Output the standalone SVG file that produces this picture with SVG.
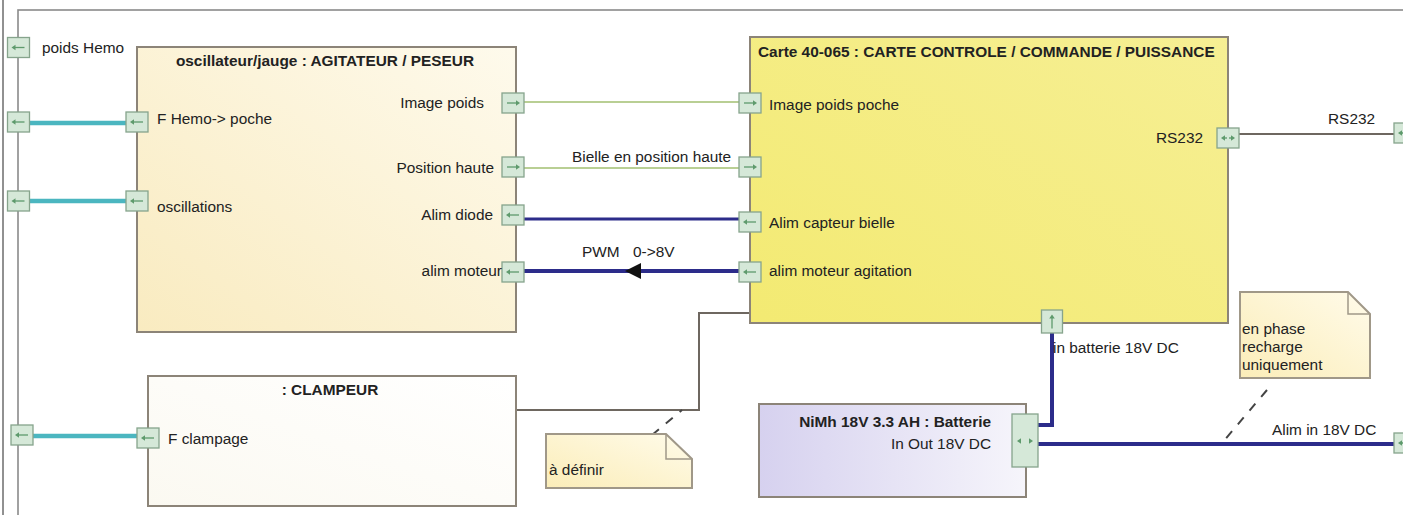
<svg xmlns="http://www.w3.org/2000/svg" xmlns:xlink="http://www.w3.org/1999/xlink" width="1403" height="515" viewBox="0 0 1403 515">
<style>
text{font-family:"Liberation Sans",Arial,sans-serif;font-size:15.4px;fill:#222}
.b{font-weight:bold}
.e{text-anchor:end}
.m{text-anchor:middle}
.blk{stroke:#8c8478;stroke-width:2}
.port{fill:#d5e8d8;stroke:#86a48c;stroke-width:1.3}
.pa{stroke:#5e9a6c;stroke-width:1.3;fill:none}
.pah{fill:#5e9a6c}
.cyan{stroke:#4bb6c0;stroke-width:4.5;fill:none}
.green{stroke:#b9cf94;stroke-width:2;fill:none}
.navy{stroke:#2c2c8a;stroke-width:3;fill:none}
.navy4{stroke:#2c2c8a;stroke-width:4;fill:none}
.gray{stroke:#6e6760;stroke-width:2;fill:none}
.dash{stroke:#444;stroke-width:2;stroke-dasharray:9,9;fill:none}
.note{fill:url(#gNote);stroke:#a09888;stroke-width:2}
</style>
<defs>
<linearGradient id="gAg" x1="0" y1="1" x2="1" y2="0"><stop offset="0" stop-color="#f9ebc0"/><stop offset="1" stop-color="#fefaec"/></linearGradient>
<linearGradient id="gCa" x1="0" y1="1" x2="1" y2="0"><stop offset="0" stop-color="#f3ea72"/><stop offset="1" stop-color="#f6ef94"/></linearGradient>
<linearGradient id="gCl" x1="0" y1="1" x2="1" y2="0"><stop offset="0" stop-color="#fbf9f1"/><stop offset="1" stop-color="#ffffff"/></linearGradient>
<linearGradient id="gBa" x1="0" y1="0" x2="1" y2="0"><stop offset="0" stop-color="#d6d1ef"/><stop offset="1" stop-color="#f6f5fb"/></linearGradient>
<linearGradient id="gNote" x1="0" y1="1" x2="1" y2="0"><stop offset="0" stop-color="#fbedb8"/><stop offset="1" stop-color="#fffbea"/></linearGradient>
<g id="pL"><rect class="port" x="-11" y="-10" width="22" height="20"/><line class="pa" x1="-4" y1="0" x2="6" y2="0"/><polygon class="pah" points="-7,0 -3,-2.8 -3,2.8"/></g>
<g id="pR"><rect class="port" x="-11" y="-10" width="22" height="20"/><line class="pa" x1="-6" y1="0" x2="4" y2="0"/><polygon class="pah" points="7,0 3,-2.8 3,2.8"/></g>
<g id="pB"><rect class="port" x="-11" y="-10" width="22" height="20"/><polygon class="pah" points="-7,0 -3,-2.8 -3,2.8"/><polygon class="pah" points="7,0 3,-2.8 3,2.8"/><line class="pa" x1="-4" y1="0" x2="-1" y2="0"/><line class="pa" x1="1" y1="0" x2="4" y2="0"/></g>
<g id="pU"><rect class="port" x="-10.5" y="-11.5" width="21" height="23"/><line class="pa" x1="0" y1="-4" x2="0" y2="7"/><polygon class="pah" points="0,-7 -2.8,-3 2.8,-3"/></g>
</defs>
<rect x="0" y="0" width="1403" height="515" fill="#ffffff"/>
<g id="frame">
<line x1="3" y1="0" x2="3" y2="515" stroke="#222" stroke-width="1"/>
<rect x="18" y="10" width="1388" height="520" fill="none" stroke="#8a8a8a" stroke-width="1.6"/>
</g>
<g id="connectors">
<line class="cyan" x1="29" y1="123" x2="126" y2="123"/>
<line class="cyan" x1="29" y1="201" x2="126" y2="201"/>
<line class="cyan" x1="32" y1="436" x2="137" y2="436"/>
<line class="green" x1="524" y1="102" x2="739" y2="102"/>
<line class="green" x1="524" y1="168" x2="739" y2="168"/>
<line class="navy" x1="524" y1="219" x2="739" y2="219"/>
<line class="navy4" x1="524" y1="271" x2="739" y2="271"/>
<polygon points="625,271 641,263 641,279" fill="#111"/>
<line class="gray" x1="1239" y1="134" x2="1394" y2="134"/>
<polyline class="gray" points="516,410 699,410 699,313 750,313"/>
<polyline class="navy4" points="1052,333 1052,425 1038,425"/>
<line class="navy4" x1="1038" y1="444" x2="1394" y2="444"/>
<line class="dash" x1="652" y1="435" x2="682" y2="410"/>
<line class="dash" x1="1267" y1="390" x2="1222" y2="443"/>
<text x="572" y="162">Bielle en position haute</text>
<text x="582" y="257">PWM</text>
<text x="633" y="257">0-&gt;8V</text>
<text x="1328" y="124">RS232</text>
<text x="1272" y="435">Alim in 18V DC</text>
</g>
<g id="frame-ports">
<use xlink:href="#pL" x="18.5" y="47.5"/>
<text x="42" y="53">poids Hemo</text>
<use xlink:href="#pL" x="18.5" y="122"/>
<use xlink:href="#pL" x="18.5" y="201"/>
<use xlink:href="#pL" x="22" y="435"/>
<use xlink:href="#pB" x="1405" y="133"/>
<use xlink:href="#pB" x="1405" y="443"/>
</g>
<g id="agitateur">
<rect class="blk" x="137" y="47" width="379" height="285" fill="url(#gAg)"/>
<text class="b m" x="325" y="66">oscillateur/jauge : AGITATEUR / PESEUR</text>
<use xlink:href="#pL" x="137" y="122"/>
<text x="157" y="124">F Hemo-&gt; poche</text>
<use xlink:href="#pL" x="137" y="201"/>
<text x="157" y="212">oscillations</text>
<use xlink:href="#pR" x="513" y="103"/>
<text class="e" x="484" y="108">Image poids</text>
<use xlink:href="#pR" x="513" y="167"/>
<text class="e" x="494" y="173">Position haute</text>
<use xlink:href="#pL" x="513" y="215"/>
<text class="e" x="493" y="220">Alim diode</text>
<use xlink:href="#pL" x="513" y="272"/>
<text class="e" x="502" y="276">alim moteur</text>
</g>
<g id="carte">
<rect class="blk" x="750" y="37" width="478" height="286" fill="url(#gCa)"/>
<text class="b" x="758" y="57">Carte 40-065 : CARTE CONTROLE / COMMANDE / PUISSANCE</text>
<use xlink:href="#pR" x="750" y="103"/>
<text x="769" y="110">Image poids poche</text>
<use xlink:href="#pR" x="750" y="167"/>
<use xlink:href="#pL" x="750" y="222"/>
<text x="769" y="228">Alim capteur bielle</text>
<use xlink:href="#pL" x="750" y="272"/>
<text x="769" y="276">alim moteur agitation</text>
<use xlink:href="#pB" x="1228" y="138"/>
<text class="e" x="1203" y="143">RS232</text>
<use xlink:href="#pU" x="1052" y="321.5"/>
<text x="1053" y="353">in batterie 18V DC</text>
</g>
<g id="clampeur">
<rect class="blk" x="148" y="376" width="368" height="130" fill="url(#gCl)"/>
<text class="b m" x="330" y="395">: CLAMPEUR</text>
<use xlink:href="#pL" x="148" y="438"/>
<text x="168" y="444">F clampage</text>
</g>
<g id="batterie">
<rect class="blk" x="759" y="404" width="267" height="93" fill="url(#gBa)"/>
<text class="b e" x="991" y="427">NiMh 18V 3.3 AH : Batterie</text>
<text class="e" x="991" y="449">In Out 18V DC</text>
<rect class="port" x="1012" y="414" width="26" height="53"/>
<polygon class="pah" points="1017,441 1021,438.2 1021,443.8"/>
<polygon class="pah" points="1033,441 1029,438.2 1029,443.8"/>
</g>
<g id="note-definir">
<path class="note" d="M546,434 H666 L692,459 V488 H546 Z"/>
<path d="M666,434 V459 H692" fill="none" stroke="#a09888" stroke-width="1.5"/>
<text x="549" y="475">à définir</text>
</g>
<g id="note-recharge">
<path class="note" d="M1240,292 H1348 L1370,314 V378 H1240 Z"/>
<path d="M1348,292 V314 H1370" fill="none" stroke="#a09888" stroke-width="1.5"/>
<text x="1242" y="334">en phase</text>
<text x="1242" y="352">recharge</text>
<text x="1242" y="370">uniquement</text>
</g>
</svg>
